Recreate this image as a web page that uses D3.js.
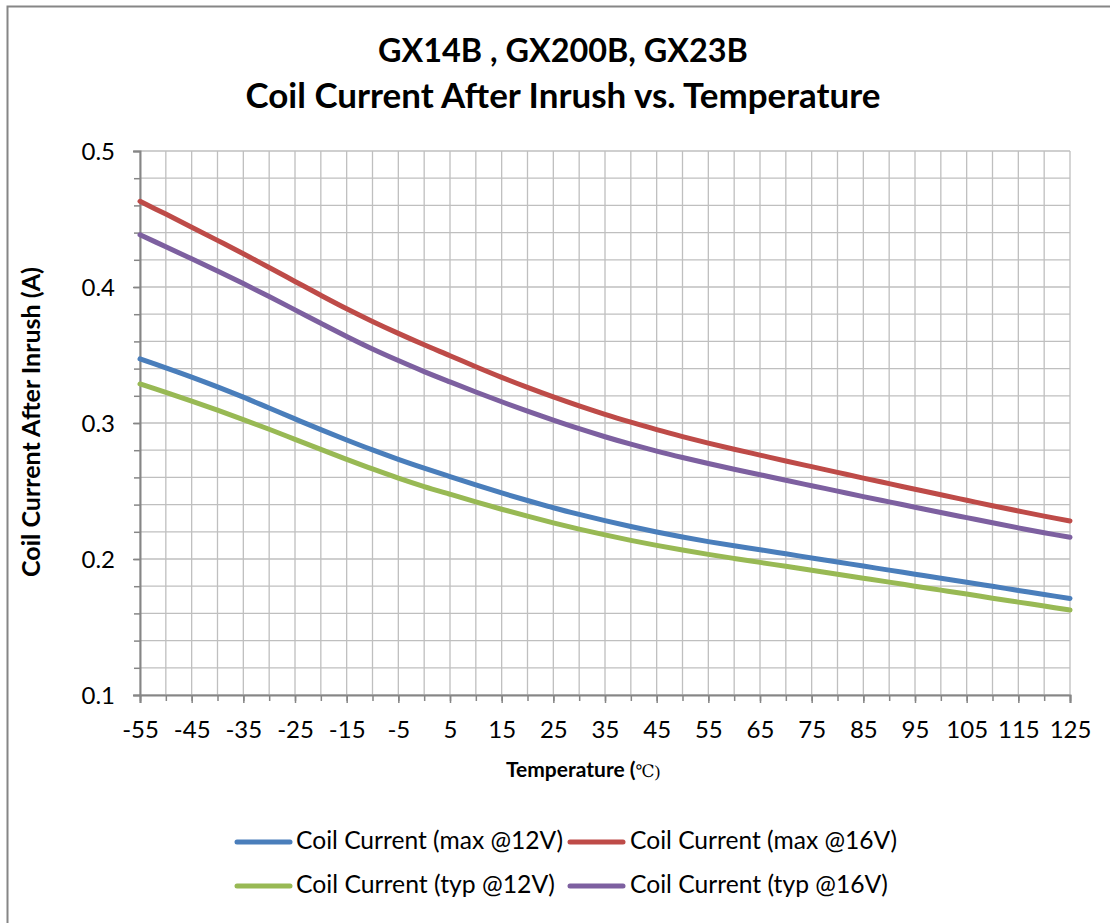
<!DOCTYPE html>
<html>
<head>
<meta charset="utf-8">
<script src="https://cdn.jsdelivr.net/npm/d3@7"></script>
<style>
  html, body { margin: 0; padding: 0; background: #fff; }
  svg { display: block; }
  text { font-family: Lato, "Open Sans", sans-serif; fill: #000; }
</style>
</head>
<body>
<svg id="chart" width="1110" height="923"></svg>
<script>
// ---- data ----
const temperatures = [-55,-50,-45,-40,-35,-30,-25,-20,-15,-10,-5,0,5,10,15,20,25,30,35,40,45,50,55,60,65,70,75,80,85,90,95,100,105,110,115,120,125];
const xTickLabels = [-55,-45,-35,-25,-15,-5,5,15,25,35,45,55,65,75,85,95,105,115,125];
const yTickLabels = [0.1,0.2,0.3,0.4,0.5];

const maxAt12V = [0.3471,0.3406,0.3338,0.3266,0.3190,0.3110,0.3030,0.2951,0.2875,0.2802,0.2733,0.2668,0.2606,0.2545,0.2486,0.2430,0.2377,0.2328,0.2282,0.2239,0.2199,0.2162,0.2128,0.2097,0.2068,0.2038,0.2008,0.1978,0.1948,0.1918,0.1888,0.1858,0.1829,0.1799,0.1769,0.1739,0.1710];
const maxAt16V = [0.4630,0.4536,0.4440,0.4343,0.4245,0.4143,0.4041,0.3939,0.3840,0.3747,0.3659,0.3575,0.3495,0.3414,0.3336,0.3262,0.3192,0.3126,0.3064,0.3006,0.2951,0.2900,0.2852,0.2807,0.2764,0.2721,0.2679,0.2637,0.2595,0.2554,0.2513,0.2472,0.2432,0.2392,0.2353,0.2315,0.2280];
const typAt12V = [0.3287,0.3225,0.3161,0.3094,0.3025,0.2954,0.2880,0.2806,0.2733,0.2662,0.2595,0.2533,0.2476,0.2420,0.2366,0.2315,0.2266,0.2220,0.2177,0.2137,0.2100,0.2066,0.2034,0.2004,0.1975,0.1946,0.1917,0.1888,0.1859,0.1830,0.1800,0.1771,0.1742,0.1712,0.1683,0.1654,0.1625];
const typAt16V = [0.4384,0.4296,0.4207,0.4117,0.4025,0.3930,0.3832,0.3733,0.3636,0.3544,0.3459,0.3378,0.3302,0.3228,0.3156,0.3087,0.3021,0.2958,0.2899,0.2844,0.2793,0.2746,0.2702,0.2660,0.2620,0.2579,0.2539,0.2499,0.2459,0.2420,0.2381,0.2342,0.2304,0.2266,0.2229,0.2193,0.2160];

const seriesNames = ["Coil Current (max @12V)","Coil Current (max @16V)","Coil Current (typ @12V)","Coil Current (typ @16V)"];
const seriesValues = [maxAt12V, maxAt16V, typAt12V, typAt16V];
const seriesColors = ["#4a7ebb","#be4b48","#98b954","#7d60a0"];

const titleLines = ["GX14B , GX200B, GX23B", "Coil Current After Inrush vs. Temperature"];
const xAxisTitle = "Temperature (";
const xAxisUnit = "℃)";
const yAxisTitle = "Coil Current After Inrush (A)";

// ---- layout ----
const svg = d3.select("#chart");
const plot = { left: 140, right: 1070, top: 151, bottom: 695 };

svg.append("rect").attr("x", 7.5).attr("y", 6.5).attr("width", 1120).attr("height", 940)
  .attr("fill", "#fff").attr("stroke", "#868686").attr("stroke-width", 2);

const x = d3.scaleLinear().domain([-55, 125]).range([plot.left, plot.right]);
const y = d3.scaleLinear().domain([0.1, 0.5]).range([plot.bottom, plot.top]);

function fit(sel, target) {
  const node = sel.node();
  const fs = parseFloat(sel.attr("font-size"));
  const w = node.getComputedTextLength();
  if (w > 0) sel.attr("font-size", (fs * target / w).toFixed(2));
  return sel;
}

// gridlines
const gridX = d3.range(-55, 125.01, 5);
const gridY = d3.range(0.1, 0.5001, 0.02);
const grid = svg.append("g").attr("stroke", "#bfbfbf").attr("stroke-width", 1.3);
grid.selectAll(".gx").data(gridX).join("line")
  .attr("x1", d => x(d)).attr("x2", d => x(d))
  .attr("y1", plot.top).attr("y2", plot.bottom);
grid.selectAll(".gy").data(gridY).join("line")
  .attr("x1", plot.left).attr("x2", plot.right)
  .attr("y1", d => y(d)).attr("y2", d => y(d));

// axes
const axisColor = "#868686";
const xMinor = svg.append("g").attr("transform", `translate(0,${plot.bottom})`)
  .call(d3.axisBottom(x).tickValues(gridX).tickSize(6).tickFormat(""));
const yMinor = svg.append("g").attr("transform", `translate(${plot.left},0)`)
  .call(d3.axisLeft(y).tickValues(gridY).tickSize(6).tickFormat(""));

const xAxis = svg.append("g").attr("transform", `translate(0,${plot.bottom})`)
  .call(d3.axisBottom(x).tickValues(xTickLabels).tickSize(8).tickFormat(d => String(d)));
const yAxis = svg.append("g").attr("transform", `translate(${plot.left},0)`)
  .call(d3.axisLeft(y).tickValues(yTickLabels).tickSize(7).tickFormat(d3.format(".1f")));

[xMinor, yMinor, xAxis, yAxis].forEach(g => {
  g.selectAll("path").attr("stroke", axisColor).attr("stroke-width", 2);
  g.selectAll("line").attr("stroke", axisColor).attr("stroke-width", 1.5);
});
[xMinor, yMinor].forEach(g => g.select("path").remove());
xAxis.selectAll("text").attr("font-size", 24).attr("font-family", "Lato, sans-serif")
  .attr("fill", "#000").attr("y", 43).attr("dy", 0);
yAxis.selectAll("text").attr("font-size", 24).attr("font-family", "Lato, sans-serif")
  .attr("fill", "#000").attr("x", -25).attr("dy", "0.35em");

// lines
const line = d3.line().x((d, i) => x(temperatures[i])).y(d => y(d)).curve(d3.curveCatmullRom.alpha(0.5));
const order = [2, 0, 3, 1];
svg.append("g").selectAll("path").data(order).join("path")
  .attr("d", k => line(seriesValues[k]))
  .attr("fill", "none")
  .attr("stroke", k => seriesColors[k])
  .attr("stroke-width", 5)
  .attr("stroke-linecap", "round")
  .attr("stroke-linejoin", "round");

// titles
fit(svg.append("text").attr("x", 563).attr("y", 62).attr("text-anchor", "middle")
  .attr("font-weight", 700).attr("font-size", 30).text(titleLines[0]), 370);
fit(svg.append("text").attr("x", 563).attr("y", 108).attr("text-anchor", "middle")
  .attr("font-weight", 700).attr("font-size", 30).text(titleLines[1]), 635);

// x axis title
const xt = svg.append("text").attr("x", 506).attr("y", 777).attr("text-anchor", "start")
  .attr("font-weight", 700).attr("font-size", 21);
xt.append("tspan").text(xAxisTitle);
xt.append("tspan").attr("font-family", "'Liberation Serif', 'DejaVu Serif', serif").attr("font-weight", 400)
  .attr("font-size", 17).text(xAxisUnit);

// y axis title
fit(svg.append("text").attr("transform", "translate(40,422) rotate(-90)").attr("text-anchor", "middle")
  .attr("font-weight", 700).attr("font-size", 20).text(yAxisTitle), 310);

// legend
const legendPos = [
  { lx: 237, tx: 296, y: 842, w: 267 },
  { lx: 570, tx: 630, y: 842, w: 267 },
  { lx: 237, tx: 296, y: 886, w: 259 },
  { lx: 570, tx: 630, y: 886, w: 258 }
];
seriesNames.forEach((name, i) => {
  const p = legendPos[i];
  svg.append("line").attr("x1", p.lx).attr("x2", p.lx + 53).attr("y1", p.y).attr("y2", p.y)
    .attr("stroke", seriesColors[i]).attr("stroke-width", 5).attr("stroke-linecap", "round");
  fit(svg.append("text").attr("x", p.tx).attr("y", p.y + 7).attr("font-size", 20).text(name), p.w);
});
</script>
</body>
</html>
